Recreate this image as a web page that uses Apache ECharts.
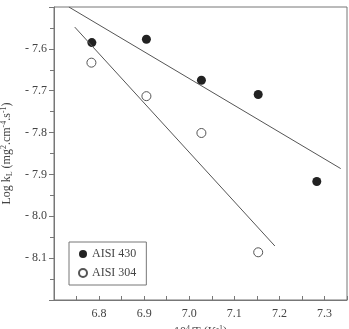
<!DOCTYPE html>
<html>
<head>
<meta charset="utf-8">
<script src="https://cdn.jsdelivr.net/npm/echarts@6/dist/echarts.min.js"></script>
<style>
  html, body { margin: 0; padding: 0; background: #fff; }
  #chart { width: 349px; height: 329px; }
</style>
</head>
<body>
<div id="chart"></div>
<script>
// 10^4/T values and log k for each steel
const xAisi430 = [6.784, 6.905, 7.027, 7.153, 7.283];
const yAisi430 = [-7.585, -7.577, -7.675, -7.709, -7.917];
const xAisi304 = [6.783, 6.905, 7.027, 7.153];
const yAisi304 = [-7.633, -7.713, -7.801, -8.086];
// fitted lines (end points)
const fit430 = [[6.733, -7.5], [7.336, -7.886]];
const fit304 = [[6.746, -7.548], [7.19, -8.071]];
const xTickLabels = ["6.8", "6.9", "7.0", "7.1", "7.2", "7.3"];
const yTickLabels = ["-7.6", "-7.7", "-7.8", "-7.9", "-8.0", "-8.1"];

const font = "Liberation Serif";
const ink = "#444";
const axisCol = "#777";

// only label exact tenths that are in the list
function tickText(v, list) {
  if (Math.abs(v * 10 - Math.round(v * 10)) > 1e-6) return null;
  const s = (Math.round(v * 10) / 10).toFixed(1);
  return list.includes(s) ? s : null;
}

const chart = echarts.init(document.getElementById("chart"));
chart.setOption({
  backgroundColor: "#fff",
  animation: false,
  textStyle: { fontFamily: font },
  grid: {
    left: 54, top: 7, right: 2, bottom: 29,
    outerBoundsMode: "none", containLabel: false,
    show: true, borderColor: axisCol, borderWidth: 1,
  },
  legend: {
    left: 69, top: 242, orient: "vertical",
    width: 74, padding: [6, 10, 6, 9], itemGap: 7,
    borderColor: axisCol, borderWidth: 1,
    itemWidth: 8, itemHeight: 8,
    textStyle: { fontFamily: font, fontSize: 12, color: ink },
    data: ["AISI 430", "AISI 304"],
  },
  xAxis: {
    type: "value", min: 6.7, max: 7.35, interval: 0.1,
    name: "{a|10}{s|4}{a|/T (K}{s|-1}{a|)}",
    nameLocation: "middle", nameGap: 23,
    nameTextStyle: {
      rich: {
        a: { fontFamily: font, fontSize: 12, color: ink },
        s: { fontFamily: font, fontSize: 8, color: ink, padding: [0, 0, 6, 0] },
      },
    },
    axisLine: { lineStyle: { color: axisCol } },
    axisTick: { inside: true, length: 4, lineStyle: { color: axisCol } },
    minorTick: { show: true, splitNumber: 2, length: 4, lineStyle: { color: axisCol } },
    splitLine: { show: false },
    axisLabel: {
      margin: 8, fontSize: 12, color: ink, fontFamily: font,
      showMinLabel: false, showMaxLabel: false,
      formatter: (v) => tickText(v, xTickLabels) || "",
    },
  },
  yAxis: {
    type: "value", min: -8.2, max: -7.5, interval: 0.1,
    name: "{a|Log k}{b|L}{a| (mg}{s|2}{a|.cm}{s|-4}{a|.s}{s|-1}{a|)}",
    nameLocation: "middle", nameGap: 32, nameRotate: 90,
    nameTextStyle: {
      rich: {
        a: { fontFamily: font, fontSize: 12, color: ink },
        b: { fontFamily: font, fontSize: 8, color: ink, padding: [6, 0, 0, 0] },
        s: { fontFamily: font, fontSize: 8, color: ink, padding: [0, 0, 6, 0] },
      },
    },
    axisLine: { show: true, lineStyle: { color: axisCol } },
    axisTick: { show: true, inside: false, length: 5, lineStyle: { color: axisCol } },
    minorTick: { show: true, splitNumber: 2, length: 4, lineStyle: { color: axisCol } },
    splitLine: { show: false },
    axisLabel: {
      margin: 7, fontSize: 12, color: ink, fontFamily: font,
      showMinLabel: false, showMaxLabel: false,
      formatter: (v) => {
        const s = tickText(v, yTickLabels);
        return s ? "- " + s.slice(1) : "";
      },
    },
  },
  series: [
    {
      type: "line", data: fit430, symbol: "none", silent: true,
      lineStyle: { color: "#555", width: 1 },
    },
    {
      type: "line", data: fit304, symbol: "none", silent: true,
      lineStyle: { color: "#555", width: 1 },
    },
    {
      name: "AISI 430", type: "scatter", symbol: "circle", symbolSize: 9,
      data: xAisi430.map((x, i) => [x, yAisi430[i]]),
      itemStyle: { color: "#222", opacity: 1 },
    },
    {
      name: "AISI 304", type: "scatter", symbol: "circle", symbolSize: 9,
      data: xAisi304.map((x, i) => [x, yAisi304[i]]),
      itemStyle: { color: "#fff", borderColor: "#555", borderWidth: 1, opacity: 1 },
    },
  ],
});
</script>
</body>
</html>
